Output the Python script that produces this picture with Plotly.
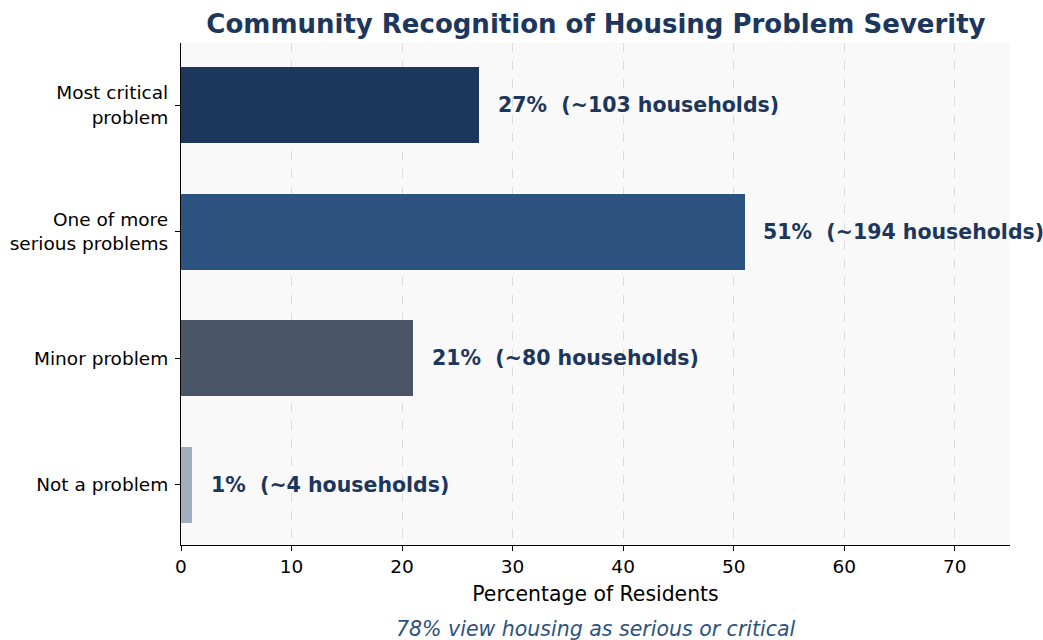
import plotly.graph_objects as go

categories = ["Most critical<br>problem", "One of more<br>serious problems", "Minor problem", "Not a problem"]
percentages = [27, 51, 21, 1]
households = [103, 194, 80, 4]
bar_colors = ["#1c365c", "#2c527f", "#4a5568", "#a0aec0"]
x_ticks = [0, 10, 20, 30, 40, 50, 60, 70]

FONT = "DejaVu Sans"
TEXT_DARK = "#1c365c"

fig = go.Figure()
fig.add_trace(go.Bar(
    y=list(range(len(categories))),
    x=percentages,
    orientation="h",
    width=0.6,
    marker=dict(color=bar_colors, line=dict(width=0)),
    hoverinfo="skip",
))

for i, (p, h) in enumerate(zip(percentages, households)):
    fig.add_annotation(
        x=p + 1.5, y=i, xref="x", yref="y",
        text=f"<b>{p}%  (~{h} households)</b>",
        showarrow=False, xanchor="left", yanchor="middle",
        font=dict(family=FONT, size=20.5, color=TEXT_DARK),
    )

fig.add_annotation(
    x=0.5, y=-0.167, xref="paper", yref="paper",
    text="<i>78% view housing as serious or critical</i>",
    showarrow=False, xanchor="center", yanchor="middle",
    font=dict(family=FONT, size=20.5, color="#2c527f"),
)

fig.update_layout(
    width=1043, height=640,
    margin=dict(l=181, r=33, t=43, b=95, autoexpand=False),
    paper_bgcolor="white",
    plot_bgcolor="#f9f9f9",
    showlegend=False,
    title=dict(
        text="<b>Community Recognition of Housing Problem Severity</b>",
        x=0.5714, xanchor="center", y=0.963, yanchor="middle",
        font=dict(family=FONT, size=26, color=TEXT_DARK),
    ),
    font=dict(family=FONT, size=18, color="black"),
    bargap=0,
)

fig.update_xaxes(
    range=[0, 75],
    tickvals=x_ticks,
    ticks="outside", ticklen=5, tickcolor="black",
    showline=True, linecolor="black", linewidth=1.2,
    showgrid=True, gridcolor="#dcdcdc", griddash="dash", gridwidth=1,
    zeroline=False,
    layer="above traces",
    automargin=False,
    title=dict(text="Percentage of Residents", font=dict(family=FONT, size=20.4, color="black"), standoff=10),
    tickfont=dict(family=FONT, size=18.5, color="black"),
)

fig.update_yaxes(
    range=[3.475, -0.49],
    tickvals=list(range(len(categories))),
    ticktext=categories,
    ticks="outside", ticklen=5, tickcolor="black",
    ticklabelstandoff=3,
    showline=True, linecolor="black", linewidth=1.2,
    showgrid=False, zeroline=False,
    automargin=False,
    tickfont=dict(family=FONT, size=18.5, color="black"),
)

fig.write_html(
    "out.html",
    config={"displayModeBar": False},
    post_script="document.body.style.margin='0';",
)
